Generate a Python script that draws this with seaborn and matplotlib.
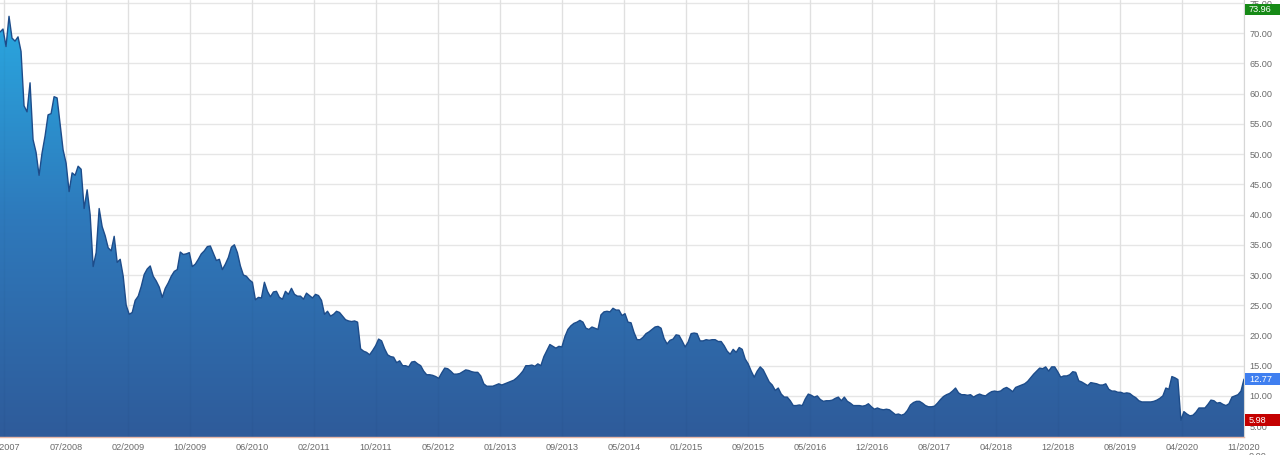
import numpy as np
import pandas as pd
import matplotlib
matplotlib.use("Agg")
import matplotlib.pyplot as plt
import matplotlib.dates as mdates
import matplotlib.transforms as mtransforms
from matplotlib.colors import LinearSegmentedColormap
from matplotlib.patches import Polygon, Rectangle
import seaborn as sns

# data (roughly two samples per month)
start_date = "2007-11-01"
end_date = "2020-11-16"
tick_start = "2007-11-16"

prices = [
    70.2, 70.7, 67.8, 72.8, 69.2, 68.7, 69.4, 67.0, 58.0, 57.0,
    61.8, 52.4, 50.3, 46.5, 50.2, 53.0, 56.5, 56.7, 59.5, 59.3,
    55.0, 50.7, 48.5, 43.8, 46.9, 46.5, 48.0, 47.5, 41.0, 44.1,
    40.0, 31.4, 33.7, 41.0, 38.0, 36.5, 34.5, 34.0, 36.4, 32.1,
    32.6, 29.8, 25.0, 23.5, 23.8, 25.8, 26.5, 28.1, 30.1, 31.0,
    31.5, 29.8, 29.0, 28.0, 26.3, 27.8, 28.7, 29.8, 30.6, 30.9,
    33.8, 33.4, 33.5, 33.7, 31.4, 31.8, 32.6, 33.5, 34.0, 34.7,
    34.8, 33.6, 32.4, 32.6, 30.9, 31.8, 32.9, 34.6, 35.0, 33.7,
    31.5, 30.0, 29.8, 29.2, 28.8, 25.9, 26.3, 26.2, 28.8, 27.3,
    26.4, 27.2, 27.3, 26.3, 26.0, 27.3, 26.8, 27.8, 26.8, 26.5,
    26.5, 26.0, 27.0, 26.6, 26.2, 26.8, 26.6, 25.8, 23.5, 24.0,
    23.2, 23.5, 24.0, 23.8, 23.2, 22.6, 22.4, 22.3, 22.4, 22.2,
    17.8, 17.4, 17.2, 16.8, 17.5, 18.3, 19.4, 19.1, 17.8, 16.8,
    16.5, 16.4, 15.5, 15.8, 15.0, 15.0, 14.8, 15.6, 15.7, 15.3,
    15.0, 14.1, 13.5, 13.5, 13.4, 13.2, 12.9, 13.8, 14.6, 14.5,
    14.1, 13.6, 13.6, 13.7, 14.0, 14.3, 14.2, 14.0, 13.9, 13.9,
    13.3, 12.0, 11.6, 11.6, 11.6, 11.8, 12.0, 11.8, 12.0, 12.2,
    12.4, 12.6, 13.0, 13.5, 14.1, 15.0, 15.0, 15.1, 14.9, 15.3,
    15.0, 16.5, 17.5, 18.5, 18.2, 17.9, 18.2, 18.1, 19.8, 21.0,
    21.6, 22.0, 22.2, 22.5, 22.2, 21.2, 21.0, 21.4, 21.2, 21.0,
    23.4, 23.9, 24.0, 23.9, 24.5, 24.2, 24.2, 23.3, 23.6, 22.2,
    22.1, 20.5, 19.3, 19.3, 19.7, 20.3, 20.6, 21.0, 21.4, 21.5,
    21.2, 19.5, 18.6, 19.2, 19.4, 20.1, 20.0, 19.1, 18.1, 18.9,
    20.3, 20.4, 20.3, 19.1, 19.1, 19.3, 19.2, 19.3, 19.3, 19.0,
    19.0, 18.3, 17.4, 16.9, 17.7, 17.2, 18.0, 17.7, 16.1, 15.3,
    14.1, 13.1, 14.1, 14.8, 14.3, 13.3, 12.3, 11.8, 10.9, 11.3,
    10.3, 9.8, 9.8, 9.2, 8.4, 8.4, 8.5, 8.4, 9.5, 10.3,
    10.1, 9.8, 10.0, 9.4, 9.1, 9.2, 9.2, 9.3, 9.6, 9.8,
    9.2, 9.8, 9.1, 8.8, 8.4, 8.4, 8.4, 8.3, 8.4, 8.7,
    8.2, 7.8, 8.0, 7.8, 7.7, 7.8, 7.7, 7.3, 6.9, 7.0,
    6.8, 7.0, 7.6, 8.5, 8.9, 9.1, 9.1, 8.8, 8.4, 8.2,
    8.2, 8.3, 8.8, 9.4, 9.9, 10.2, 10.4, 10.8, 11.3, 10.5,
    10.2, 10.2, 10.1, 10.2, 9.8, 10.1, 10.3, 10.1, 10.0, 10.4,
    10.7, 10.8, 10.7, 10.8, 11.2, 11.4, 11.1, 10.7, 11.4, 11.6,
    11.8, 12.0, 12.4, 13.0, 13.6, 14.1, 14.6, 14.5, 14.8, 14.1,
    14.8, 14.8, 14.0, 13.1, 13.3, 13.3, 13.5, 14.0, 13.9, 12.5,
    12.3, 12.0, 11.7, 12.2, 12.1, 12.0, 11.8, 11.8, 12.0, 11.1,
    10.8, 10.8, 10.6, 10.6, 10.4, 10.5, 10.4, 10.0, 9.7, 9.2,
    9.0, 9.0, 9.0, 9.0, 9.1, 9.3, 9.6, 10.0, 11.3, 11.1,
    13.2, 13.0, 12.7, 5.98, 7.4, 7.0, 6.7, 6.8, 7.3, 8.0,
    8.0, 8.0, 8.6, 9.3, 9.2, 8.8, 8.9, 8.6, 8.4, 8.7,
    9.8, 10.0, 10.2, 10.8, 12.77,
]

tick_labels = ["11/2007", "07/2008", "02/2009", "10/2009", "06/2010", "02/2011",
               "10/2011", "05/2012", "01/2013", "09/2013", "05/2014", "01/2015",
               "09/2015", "05/2016", "12/2016", "08/2017", "04/2018", "12/2018",
               "08/2019", "04/2020", "11/2020"]
y_ticks = [5, 10, 15, 20, 25, 30, 35, 40, 45, 50, 55, 60, 65, 70, 75]

high_value = 73.96
low_value = 5.98
last_value = 12.77

dates = pd.date_range(start_date, end_date, periods=len(prices))
df = pd.DataFrame({"date": dates, "price": prices})

sns.set_style("white")
plt.rcParams["font.family"] = ["Liberation Sans", "DejaVu Sans"]

fig = plt.figure(figsize=(12.8, 4.55), dpi=100)
ax = fig.add_axes([0, 18 / 455, 1244 / 1280, 437 / 455])

y_lo, y_hi = 3.2, 75.5
xs = mdates.date2num(df["date"])

# gradient area fill clipped to the price curve
cmap = LinearSegmentedColormap.from_list("area", ["#2f5b9a", "#2e79bb", "#29abe3"])
grad = np.linspace(0, 1, 256).reshape(-1, 1)
im = ax.imshow(grad, cmap=cmap, aspect="auto", origin="lower",
               extent=[xs[0], xs[-1], y_lo, y_hi], zorder=1)
verts = [(xs[0], y_lo)] + list(zip(xs, df["price"])) + [(xs[-1], y_lo)]
poly = Polygon(verts, closed=True, facecolor="none", edgecolor="none")
ax.add_patch(poly)
im.set_clip_path(poly)

sns.lineplot(data=df, x="date", y="price", ax=ax, color="#1d4c8a",
             linewidth=1.0, zorder=3)

tick_dates = pd.date_range(tick_start, end_date, periods=len(tick_labels))
ax.set_xticks(tick_dates)
ax.set_xticklabels(tick_labels)
ax.set_yticks(y_ticks)
ax.set_yticklabels(["%.2f" % v for v in y_ticks])
ax.yaxis.tick_right()
ax.set_xlim(xs[0], xs[-1])
ax.set_ylim(y_lo, y_hi)
ax.set_xlabel("")
ax.set_ylabel("")

ax.grid(True, color="#e6e6e6", linewidth=1)
ax.set_axisbelow(True)
# faint grid showing through the fill
ax.vlines(tick_dates, y_lo, y_hi, color="black", alpha=0.025, linewidth=1, zorder=2)

ax.tick_params(axis="both", length=0, labelsize=6.6, labelcolor="#6b6b6b")
ax.tick_params(axis="y", pad=4)
ax.tick_params(axis="x", pad=4)
for s in ["top", "left"]:
    ax.spines[s].set_visible(False)
ax.spines["right"].set_color("#d6d6d6")
ax.spines["bottom"].set_color("#e9b9a8")
ax.spines["bottom"].set_linewidth(1)

trans = mtransforms.blended_transform_factory(ax.transAxes, ax.transData)
ax.text(1.004, 0, "0.00", transform=trans, fontsize=6.6, color="#6b6b6b",
        va="center", ha="left", clip_on=False)

# value badges on the right axis
for val, col in [(high_value, "#168a16"), (last_value, "#3f7ff0"), (low_value, "#c40000")]:
    ax.add_patch(Rectangle((1.0008, val - 0.95), 0.03, 1.9, transform=trans,
                           facecolor=col, edgecolor="none", clip_on=False, zorder=5))
    ax.text(1.004, val, "%.2f" % val, transform=trans, fontsize=6.6, color="white",
            va="center", ha="left", clip_on=False, zorder=6)

fig.savefig("out.png", dpi=100)
